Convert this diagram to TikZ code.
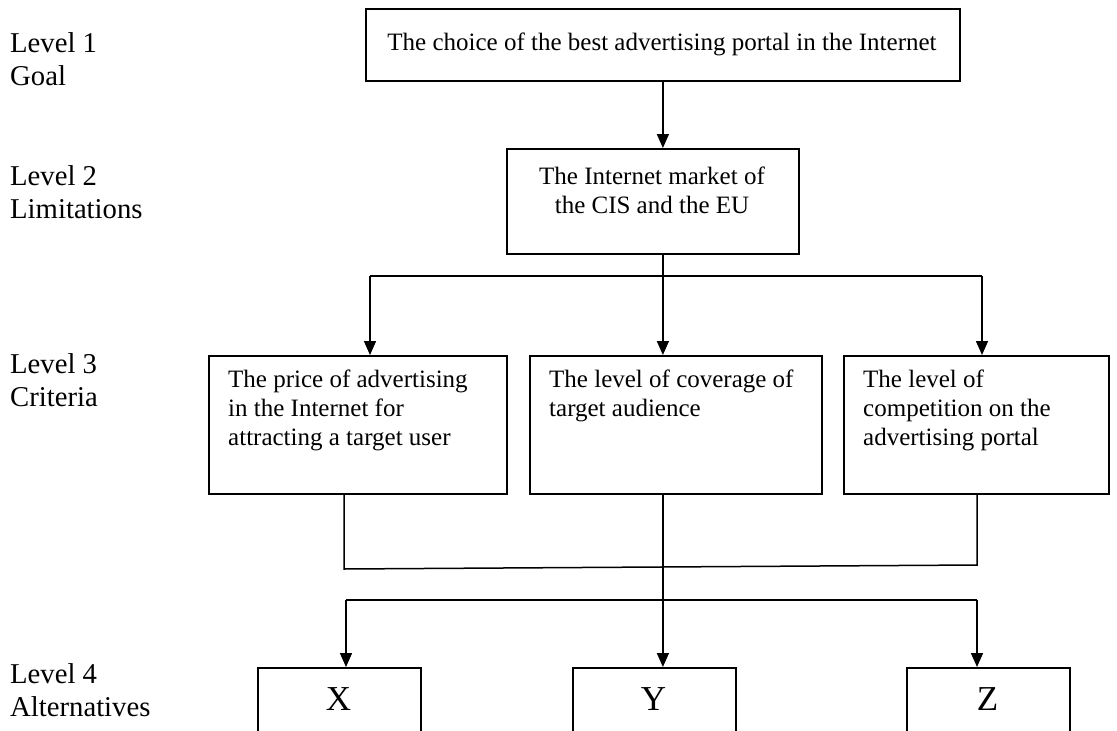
\documentclass[tikz,border=0pt]{standalone}
\usepackage{fontspec}
\setmainfont{Liberation Serif}
\usetikzlibrary{arrows.meta}
\begin{document}
\begin{tikzpicture}[x=1pt,y=-1pt,
  box/.style={draw, line width=1.8pt, inner sep=0pt, anchor=north west},
  conn/.style={line width=1.5pt},
  arr/.style={conn, -{Triangle[length=14pt,width=12pt]}},
  txt/.style={font=\fontsize{25}{29}\selectfont, inner sep=0pt, align=left, anchor=north west},
  ctxt/.style={font=\fontsize{25}{29}\selectfont, inner sep=0pt, align=center, anchor=north},
  lab/.style={font=\fontsize{28.7}{33}\selectfont, inner sep=0pt, align=left, anchor=north west},
  alt/.style={font=\fontsize{35}{40}\selectfont, inner sep=0pt, anchor=base},
]
\useasboundingbox (0,0) rectangle (1117,731);
\fill[white] (0,0) rectangle (1117,731);
\clip (0,0) rectangle (1117,731);

% level labels
\node[lab] (l1) at (10,32.5) {Level 1\\Goal};
\node[lab] (l2) at (10,165) {Level 2\\Limitations};
\node[lab] (l3) at (10,353.5) {Level 3\\Criteria};
\node[lab] (l4) at (10,663.5) {Level 4\\Alternatives};

% boxes
\node[box, minimum width=594pt, minimum height=72pt] (goal) at (365,8) {};
\node[ctxt] (goaltxt) at (662,33) {The choice of the best advertising portal in the Internet};

\node[box, minimum width=292pt, minimum height=105pt] (lim) at (506,148) {};
\node[ctxt] (limtxt) at (652,167) {The Internet market of\\the CIS and the EU};

\node[box, minimum width=298pt, minimum height=138pt] (c1) at (208,355) {};
\node[txt] (c1txt) at (228,370) {The price of advertising\\in the Internet for\\attracting a target user};
\node[box, minimum width=292pt, minimum height=138pt] (c2) at (529,355) {};
\node[txt] (c2txt) at (549,370) {The level of coverage of\\target audience};
\node[box, minimum width=265pt, minimum height=138pt] (c3) at (843,355) {};
\node[txt] (c3txt) at (863,370) {The level of\\competition on the\\advertising portal};

\node[box, minimum width=163pt, minimum height=90pt] (ax) at (257,667) {};
\node[alt] (axt) at (338.5,710) {X};
\node[box, minimum width=163pt, minimum height=90pt] (ay) at (572,667) {};
\node[alt] (ayt) at (653.5,710) {Y};
\node[box, minimum width=163pt, minimum height=90pt] (az) at (906,667) {};
\node[alt] (azt) at (987.5,710) {Z};

% connectors
\draw[arr] (goal.south) -- (goal.south |- lim.north);

\coordinate (hl) at (370,276);
\coordinate (hr) at (982,276);
\draw[conn] (hl) -- (hr);
\draw[arr] (goal.south |- lim.south) -- (goal.south |- c2.north);
\draw[arr] (hl) -- (hl |- c1.north);
\draw[arr] (hr) -- (hr |- c3.north);

\coordinate (j1) at (344,569);
\coordinate (j3) at (977,565);
\draw[conn] (j1 |- c1.south) -- (j1) -- (j3) -- (j3 |- c3.south);
\draw[arr] (goal.south |- c2.south) -- (goal.south |- ay.north);

\coordinate (k1) at (346,600);
\coordinate (k3) at (977,600);
\draw[conn] (k1) -- (k3);
\draw[arr] (k1) -- (k1 |- ax.north);
\draw[arr] (k3) -- (k3 |- az.north);
\end{tikzpicture}
\end{document}
